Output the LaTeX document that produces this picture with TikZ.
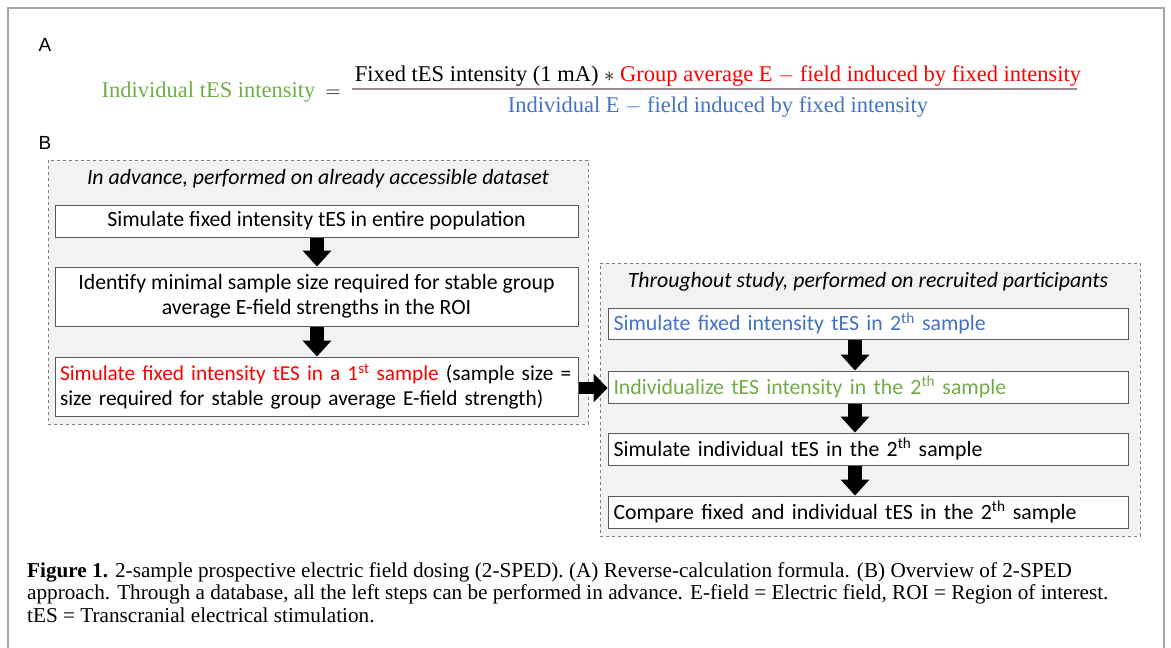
\documentclass[tikz,border=0pt]{standalone}
\usepackage{fontspec}
\setmainfont{Liberation Serif}
\newfontfamily\carl{Carlito}
\newfontfamily\arl{Liberation Sans}
\usetikzlibrary{arrows.meta}
\definecolor{myred}{HTML}{FF0000}
\definecolor{mygreen}{HTML}{70AD47}
\definecolor{myblue}{HTML}{4472C4}
\definecolor{boxgray}{HTML}{595959}
\definecolor{panelfill}{HTML}{F2F2F2}
\definecolor{dashgray}{HTML}{7F7F7F}
\definecolor{framegray}{HTML}{A6A6A6}
\definecolor{fracline}{HTML}{9C8C8C}
\tikzset{
  panel/.style={draw=dashgray, fill=panelfill, dashed, line width=0.9pt, anchor=north west, inner sep=0pt},
  stepbox/.style={draw=boxgray, fill=white, line width=1pt, font=\carl\fontsize{21.8}{25}\selectfont, inner xsep=5pt, inner ysep=0pt},
  paneltitle/.style={font=\carl\itshape\fontsize{21.8}{25}\selectfont},
  blockarr/.style={line width=14pt, -{Triangle[width=29pt,length=16pt,line width=0pt]}},
  blockarrh/.style={line width=12pt, -{Triangle[width=29pt,length=14pt,line width=0pt]}},
  formula/.style={font=\fontsize{22.5}{26}\selectfont, anchor=base},
  lab/.style={font=\arl\fontsize{19}{21}\selectfont, anchor=base west}
}
\begin{document}
\begin{tikzpicture}[x=1pt,y=-1pt]
\useasboundingbox (0,0) rectangle (1171,648);
% outer frame
\draw[framegray, line width=1.5pt] (8,648) -- (8,8) -- (1164,8) -- (1164,648);

% panel labels
\node[lab] (labA) at (35,51) {A};
\node[lab] (labB) at (35,149) {B};

% formula
\node[formula, anchor=base east, text=mygreen] (lhs) at (319,97) {Individual tES intensity};
\node[formula] (eq) at (333,97) {$=$};
\node[formula] (num) at (718,81) {Fixed tES intensity (1 mA) $\ast$ \textcolor{myred}{Group average E $-$ field induced by fixed intensity}};
\node[formula, text=myblue] (den) at (718,112) {Individual E $-$ field induced by fixed intensity};
\draw[fracline, line width=1.6pt] (352,89) -- (1077,89);

% left panel
\node[panel, minimum width=540pt, minimum height=264pt] (L) at (48,160) {};
\node[paneltitle] (Lt) at (318,179) {In advance, performed on already accessible dataset};
\node[stepbox, minimum width=523pt, minimum height=32pt] (b1) at (316.5,221) {Simulate fixed intensity tES in entire population};
\node[stepbox, minimum width=523pt, minimum height=59pt, align=center] (b2) at (316.5,296.5) {Identify minimal sample size required for stable group\\average E-field strengths in the ROI};
\node[stepbox, minimum width=523pt, minimum height=59pt, text width=513pt, align=left, inner xsep=4pt, font=\carl\fontsize{21.3}{25}\selectfont] (b3) at (316.5,386.5) {\mbox{\textcolor{myred}{Simulate fixed intensity tES in a 1\textsuperscript{st} sample} (sample size =}\\\mbox{size required for stable group average E-field strength)}};

% right panel
\node[panel, minimum width=540pt, minimum height=273pt] (R) at (600,263) {};
\node[paneltitle] (Rt) at (868,282) {Throughout study, performed on recruited participants};
\node[stepbox, minimum width=520pt, minimum height=31pt, text width=509pt, align=left, text=myblue] (r1) at (868,323.5) {Simulate fixed intensity tES in 2\textsuperscript{th} sample};
\node[stepbox, minimum width=520pt, minimum height=32pt, text width=509pt, align=left, text=mygreen] (r2) at (868,387) {Individualize tES intensity in the 2\textsuperscript{th} sample};
\node[stepbox, minimum width=520pt, minimum height=32pt, text width=509pt, align=left] (r3) at (868,449) {Simulate individual tES in the 2\textsuperscript{th} sample};
\node[stepbox, minimum width=520pt, minimum height=32pt, text width=509pt, align=left] (r4) at (868,512) {Compare fixed and individual tES in the 2\textsuperscript{th} sample};

% arrows
\draw[blockarr] (b1.south -| 317,0) -- (b2.north -| 317,0);
\draw[blockarr] (b2.south -| 317,0) -- (b3.north -| 317,0);
\draw[blockarr] (r1.south -| 855,0) -- (r2.north -| 855,0);
\draw[blockarr] (r2.south -| 855,0) -- (r3.north -| 855,0);
\draw[blockarr] (r3.south -| 855,0) -- (r4.north -| 855,0);
\draw[blockarrh] (b3.east |- 0,388) -- (r2.west |- 0,388);

% caption
\node[anchor=north west, align=left, font=\fontsize{21.2}{22.5}\selectfont, inner sep=0pt] (cap) at (27,562) {\textbf{Figure 1.} 2-sample prospective electric field dosing (2-SPED). (A) Reverse-calculation formula. (B) Overview of 2-SPED\\approach. Through a database, all the left steps can be performed in advance. E-field = Electric field, ROI = Region of interest.\\tES = Transcranial electrical stimulation.};
\end{tikzpicture}
\end{document}
